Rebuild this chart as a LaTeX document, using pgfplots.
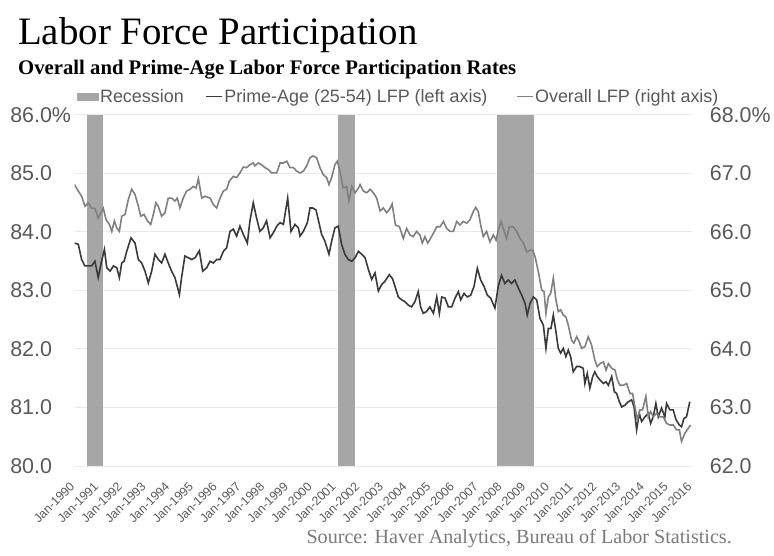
\documentclass[border=0pt]{standalone}
\usepackage{fontspec}
\setmainfont{Liberation Sans}
\newfontfamily\seriffont{Liberation Serif}
\usepackage{pgfplots}
\usepackage{pgfplotstable}
\pgfplotsset{compat=1.18}

\definecolor{recgray}{HTML}{A6A6A6}
\definecolor{primeline}{HTML}{3A3A3A}
\definecolor{overallline}{HTML}{808080}
\definecolor{gridgray}{HTML}{E9E9E9}
\definecolor{tickgray}{HTML}{595959}
\definecolor{srcgray}{HTML}{7A7A7A}

% prime-age (25-54) LFP, left axis
\pgfplotstableread{
t val
1990.00 83.81
1990.16 83.79
1990.30 83.53
1990.44 83.42
1990.72 83.42
1990.86 83.50
1991.00 83.22
1991.14 83.50
1991.26 83.70
1991.36 83.39
1991.50 83.33
1991.64 83.42
1991.78 83.39
1991.89 83.22
1991.99 83.47
1992.09 83.50
1992.20 83.67
1992.38 83.90
1992.55 83.81
1992.69 83.53
1992.83 83.47
1992.97 83.33
1993.11 83.13
1993.25 83.33
1993.39 83.62
1993.53 83.53
1993.67 83.47
1993.81 83.62
1993.95 83.47
1994.09 83.33
1994.23 83.22
1994.42 82.93
1994.51 83.22
1994.65 83.59
1994.79 83.56
1994.94 83.53
1995.08 83.56
1995.26 83.68
1995.40 83.33
1995.57 83.39
1995.71 83.50
1995.85 83.47
1995.99 83.53
1996.13 83.53
1996.27 83.67
1996.41 83.73
1996.55 84.01
1996.69 84.05
1996.83 83.93
1996.97 84.10
1997.11 83.96
1997.28 83.81
1997.39 84.19
1997.53 84.50
1997.67 84.24
1997.81 84.01
1997.95 84.07
1998.09 84.19
1998.24 83.90
1998.38 83.99
1998.52 84.10
1998.66 84.16
1998.80 84.13
1998.98 84.58
1999.12 84.01
1999.29 84.13
1999.43 84.07
1999.50 83.93
1999.64 84.01
1999.81 84.16
1999.92 84.41
2000.03 84.41
2000.17 84.38
2000.27 84.21
2000.41 83.96
2000.55 83.84
2000.72 83.62
2000.83 83.84
2000.97 84.07
2001.11 84.10
2001.25 83.79
2001.39 83.62
2001.53 83.53
2001.68 83.50
2001.82 83.56
2001.96 83.67
2002.10 83.62
2002.24 83.56
2002.38 83.36
2002.52 83.19
2002.66 83.30
2002.80 82.99
2002.94 83.10
2003.08 83.16
2003.26 83.27
2003.40 83.20
2003.50 83.07
2003.64 82.89
2003.78 82.84
2003.92 82.81
2004.06 82.75
2004.20 82.72
2004.34 82.81
2004.48 82.98
2004.58 82.72
2004.69 82.61
2004.83 82.64
2004.97 82.72
2005.12 82.61
2005.26 82.89
2005.37 82.61
2005.47 82.89
2005.61 82.87
2005.75 82.72
2005.89 82.72
2006.03 82.87
2006.17 82.98
2006.27 82.84
2006.41 82.95
2006.55 82.89
2006.69 82.92
2006.83 83.07
2006.97 83.38
2007.11 83.18
2007.25 83.07
2007.39 82.92
2007.53 82.87
2007.71 82.70
2007.85 83.07
2007.99 83.26
2008.13 83.12
2008.27 83.18
2008.41 83.12
2008.55 83.18
2008.70 83.04
2008.84 82.92
2008.98 82.78
2009.07 82.58
2009.19 82.78
2009.33 82.89
2009.47 82.84
2009.61 82.52
2009.75 82.41
2009.86 82.01
2009.96 82.35
2010.07 82.35
2010.17 82.58
2010.28 82.30
2010.38 82.01
2010.48 81.93
2010.59 82.01
2010.70 81.87
2010.80 81.98
2010.90 81.87
2011.01 81.61
2011.15 81.70
2011.29 81.70
2011.43 81.67
2011.50 81.41
2011.60 81.58
2011.71 81.33
2011.83 81.53
2011.92 81.61
2012.02 81.53
2012.14 81.47
2012.28 81.41
2012.39 81.44
2012.49 81.38
2012.63 81.53
2012.74 81.27
2012.84 81.24
2012.95 81.10
2013.05 81.01
2013.19 81.04
2013.33 81.10
2013.47 81.13
2013.57 81.01
2013.68 80.62
2013.79 80.90
2013.89 80.76
2014.03 80.84
2014.17 80.90
2014.27 80.73
2014.38 80.84
2014.49 81.07
2014.59 80.84
2014.73 80.99
2014.87 80.84
2014.94 81.07
2015.08 80.96
2015.22 80.96
2015.34 80.79
2015.48 80.70
2015.57 80.67
2015.67 80.81
2015.78 80.84
2015.92 81.10
}\primeage

% overall LFP, right axis
\pgfplotstableread{
t val
1990.00 66.81
1990.16 66.70
1990.30 66.61
1990.44 66.44
1990.58 66.50
1990.72 66.41
1990.86 66.40
1991.00 66.24
1991.14 66.36
1991.21 66.41
1991.33 66.21
1991.47 66.13
1991.57 66.01
1991.68 66.19
1991.78 66.07
1991.89 66.01
1991.99 66.27
1992.13 66.30
1992.27 66.56
1992.41 66.73
1992.55 66.64
1992.69 66.44
1992.79 66.27
1992.93 66.30
1993.07 66.19
1993.21 66.13
1993.32 66.30
1993.43 66.50
1993.53 66.44
1993.67 66.27
1993.81 66.33
1993.95 66.58
1994.09 66.58
1994.23 66.53
1994.33 66.58
1994.44 66.41
1994.58 66.58
1994.72 66.70
1994.87 66.73
1995.01 66.78
1995.12 66.75
1995.22 66.91
1995.36 66.58
1995.50 66.61
1995.71 66.58
1995.85 66.47
1995.99 66.41
1996.13 66.58
1996.27 66.70
1996.41 66.73
1996.52 66.87
1996.69 66.95
1996.83 66.93
1996.97 67.01
1997.11 67.11
1997.25 67.10
1997.39 67.15
1997.53 67.18
1997.60 67.13
1997.74 67.18
1997.88 67.15
1998.02 67.10
1998.16 67.07
1998.31 67.01
1998.52 67.01
1998.66 67.18
1998.80 67.18
1998.94 67.21
1999.08 67.10
1999.22 67.10
1999.36 67.04
1999.50 67.01
1999.64 67.04
1999.78 67.13
1999.92 67.27
2000.06 67.30
2000.20 67.27
2000.34 67.10
2000.48 66.98
2000.62 66.93
2000.72 66.81
2000.83 66.93
2000.97 67.15
2001.07 67.21
2001.18 67.04
2001.32 66.75
2001.46 66.78
2001.56 66.53
2001.68 66.78
2001.82 66.67
2001.96 66.75
2002.03 66.81
2002.17 66.70
2002.31 66.67
2002.45 66.73
2002.59 66.67
2002.73 66.58
2002.87 66.36
2003.01 66.41
2003.15 66.33
2003.29 66.40
2003.38 66.48
2003.52 66.12
2003.69 66.09
2003.85 65.89
2003.99 66.06
2004.13 65.95
2004.27 65.92
2004.41 66.01
2004.55 65.95
2004.65 65.81
2004.76 65.92
2004.88 65.81
2005.00 65.89
2005.12 65.98
2005.26 66.09
2005.40 66.09
2005.54 66.18
2005.68 66.06
2005.82 66.01
2005.96 66.01
2006.10 66.18
2006.24 66.12
2006.38 66.18
2006.52 66.15
2006.66 66.21
2006.80 66.35
2006.90 66.42
2007.01 66.35
2007.11 66.12
2007.22 65.92
2007.36 66.01
2007.50 65.83
2007.64 65.95
2007.76 65.86
2007.85 66.03
2007.97 66.18
2008.09 66.03
2008.20 65.89
2008.32 66.09
2008.48 66.09
2008.63 66.01
2008.77 65.89
2008.91 65.81
2009.05 65.66
2009.19 65.69
2009.30 65.69
2009.40 65.58
2009.54 65.32
2009.68 65.01
2009.78 64.98
2009.86 64.61
2009.96 64.89
2010.06 64.95
2010.17 65.21
2010.28 64.84
2010.38 64.64
2010.48 64.67
2010.59 64.58
2010.70 64.55
2010.80 64.41
2010.94 64.15
2011.04 64.10
2011.15 64.21
2011.26 64.13
2011.36 64.01
2011.50 64.04
2011.64 64.21
2011.78 64.07
2011.92 63.81
2012.02 63.70
2012.14 63.75
2012.28 63.78
2012.39 63.64
2012.49 63.75
2012.63 63.67
2012.77 63.64
2012.87 63.47
2012.98 63.38
2013.12 63.38
2013.26 63.41
2013.40 63.24
2013.51 63.24
2013.61 63.01
2013.71 62.79
2013.82 62.96
2013.93 62.96
2014.07 63.19
2014.17 62.84
2014.27 62.93
2014.38 62.84
2014.52 62.90
2014.66 62.84
2014.80 62.84
2014.94 62.73
2015.08 62.70
2015.22 62.70
2015.36 62.62
2015.48 62.62
2015.57 62.42
2015.71 62.56
2015.85 62.64
2015.95 62.70
}\overall

\pgfplotsset{
  base/.style={
    at={(74.5bp,90bp)}, anchor=south west,
    scale only axis, width=617.2bp, height=351bp,
    xmin=1990, xmax=2016,
    axis line style={draw=none}, major tick length=0pt,
    /pgf/number format/assume math mode=true,
    yticklabel style={font=\fontsize{21.5}{24}\selectfont, text=tickgray, inner sep=0pt},
  },
  recbar/.style={fill=recgray, draw=none, forget plot},
}

\begin{document}
\begin{tikzpicture}
\useasboundingbox (0,0) rectangle (774bp,556bp);

\begin{axis}[base,
  ymin=80, ymax=86,
  axis x line*=bottom, axis y line*=left,
  ytick={80,81,82,83,84,85,86},
  yticklabels={80.0,81.0,82.0,83.0,84.0,85.0,86.0\%},
  yticklabel style={anchor=east, text width=62bp, align=left, xshift=-2bp},
  ymajorgrids, grid style={gridgray, line width=1bp},
  xtick={1990,...,2016},
  xticklabels={Jan-1990,Jan-1991,Jan-1992,Jan-1993,Jan-1994,Jan-1995,Jan-1996,Jan-1997,Jan-1998,Jan-1999,Jan-2000,Jan-2001,Jan-2002,Jan-2003,Jan-2004,Jan-2005,Jan-2006,Jan-2007,Jan-2008,Jan-2009,Jan-2010,Jan-2011,Jan-2012,Jan-2013,Jan-2014,Jan-2015,Jan-2016},
  xticklabel style={font=\fontsize{12.4}{14}\selectfont, text=tickgray, rotate=45, anchor=north east, inner sep=1bp, yshift=-5.8bp, xshift=-13.3bp},
]
% recessions
\addplot[recbar] coordinates {(1990.51,80) (1990.51,86) (1991.19,86) (1991.19,80)} -- cycle;
\addplot[recbar] coordinates {(2001.11,80) (2001.11,86) (2001.82,86) (2001.82,80)} -- cycle;
\addplot[recbar] coordinates {(2007.81,80) (2007.81,86) (2009.37,86) (2009.37,80)} -- cycle;
\addplot[primeline, line width=1.6bp, forget plot] table[x=t, y=val] {\primeage};
\end{axis}

\begin{axis}[base,
  ymin=62, ymax=68,
  axis x line=none, axis y line*=right,
  ytick={62,63,64,65,66,67,68},
  yticklabels={62.0,63.0,64.0,65.0,66.0,67.0,68.0\%},
  yticklabel style={anchor=west, xshift=18bp},
  legend columns=3,
  legend style={at={(0.004,1.0527)}, anchor=west, draw=none, fill=none,
    font=\fontsize{18}{20}\selectfont, text=tickgray, inner sep=0pt,
    nodes={inner sep=1.5bp},
    /tikz/column 2/.style={column sep=20bp},
    /tikz/column 4/.style={column sep=27bp}},
  legend cell align=left,
]
\addlegendimage{legend image code/.code={\fill[recgray] (0bp,-3.5bp) rectangle (21bp,3.5bp);}}
\addlegendentry{Recession}
\addlegendimage{legend image code/.code={\draw[primeline, line width=1.6bp] (0bp,0bp) -- (16bp,0bp);}}
\addlegendentry{Prime-Age (25-54) LFP (left axis)}
\addplot[overallline, line width=1.6bp, legend image code/.code={\draw[overallline, line width=1.6bp] (0bp,0bp) -- (16bp,0bp);}] table[x=t, y=val] {\overall};
\addlegendentry{Overall LFP (right axis)}
\end{axis}

\node[anchor=base west, inner sep=0pt, font=\seriffont\fontsize{39}{42}\selectfont] at (18bp,511bp) {Labor Force Participation};
\node[anchor=base west, inner sep=0pt, font=\seriffont\bfseries\fontsize{20.8}{24}\selectfont] at (18bp,481bp) {Overall and Prime-Age Labor Force Participation Rates};
\node[anchor=base east, inner sep=0pt, text=srcgray, font=\seriffont\fontsize{20.2}{23}\selectfont] at (732bp,13bp) {Source: Haver Analytics, Bureau of Labor Statistics.};
\end{tikzpicture}
\end{document}
